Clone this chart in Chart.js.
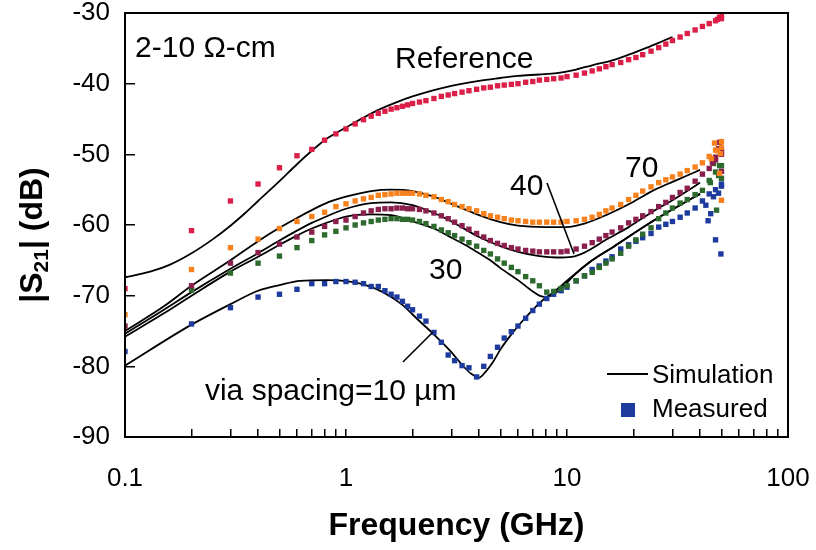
<!DOCTYPE html>
<html>
<head>
<meta charset="utf-8">
<script src="https://cdn.jsdelivr.net/npm/chart.js@4.4.1/dist/chart.umd.min.js"></script>
<style>
  html, body { margin: 0; padding: 0; background: #fff; }
  #wrap { width: 816px; height: 550px; position: relative; }
</style>
</head>
<body>
<div id="wrap"><canvas id="s21Chart"></canvas></div>
<script>
const FONT = "'Liberation Sans', Arial, sans-serif";

// measured sweep frequencies (GHz)
const measFreq = [0.1, 0.2, 0.3, 0.4, 0.5, 0.6, 0.7, 0.8, 0.9, 1.0,
  1.1, 1.2, 1.3, 1.4, 1.5, 1.6, 1.7, 1.8, 1.9, 2.0,
  2.15, 2.3, 2.5, 2.7, 2.9,
  3.1, 3.35, 3.6, 3.9, 4.2, 4.5, 4.85,
  5.2, 5.6, 6.0, 6.5, 7.0, 7.5, 8.1, 8.7, 9.4, 10,
  11, 12, 13, 14, 15, 16,
  17.5, 19, 20.5, 22, 24, 26, 28, 30,
  32.5, 35, 38, 41, 44, 47, 50];

// measured |S21| in dB
const refMeas = [-69.0, -60.8, -56.6, -54.2, -51.9, -50.2, -49.3, -48.0, -47.1, -46.4,
  -45.7, -45.1, -44.6, -44.2, -43.9, -43.6, -43.4, -43.2, -43.0, -42.8,
  -42.6, -42.4, -42.1, -41.8, -41.6,
  -41.4, -41.2, -41.0, -40.8, -40.6, -40.5, -40.3,
  -40.2, -40.1, -40.0, -39.8, -39.7, -39.5, -39.4, -39.3, -39.2, -39.0,
  -38.8, -38.5, -38.2, -37.9, -37.6, -37.3,
  -37.0, -36.6, -36.3, -35.9, -35.4, -34.9, -34.4, -33.9,
  -33.4, -32.9, -32.4, -31.9, -31.5, -31.1, -30.8];
const sp70Meas = [-72.7, -66.3, -63.2, -62.0, -60.5, -59.5, -58.8, -58.2, -57.4, -57.0,
  -56.6, -56.3, -56.1, -55.8, -55.7, -55.6, -55.5, -55.5, -55.5, -55.5,
  -55.6, -55.8, -56.0, -56.4, -56.7,
  -57.1, -57.4, -57.7, -58.0, -58.4, -58.7, -58.9,
  -59.1, -59.3, -59.4, -59.5, -59.6, -59.6, -59.6, -59.6, -59.6, -59.5,
  -59.4, -59.2, -58.9, -58.5, -58.0, -57.6,
  -57.1, -56.4, -55.8, -55.2, -54.6, -54.0, -53.6, -53.2,
  -52.8, -52.3, -51.8, -51.2, -50.3, -49.4, -49.0];
const sp40Meas = [-74.3, -68.6, -65.4, -63.9, -62.7, -61.7, -61.0, -60.2, -59.5, -59.3,
  -58.8, -58.3, -58.0, -57.8, -57.7, -57.7, -57.6, -57.6, -57.7, -57.7,
  -57.8, -58.0, -58.3, -58.7, -59.1,
  -59.6, -60.1, -60.6, -61.2, -61.7, -62.2, -62.6,
  -62.9, -63.2, -63.4, -63.6, -63.7, -63.8, -63.8, -63.8, -63.8, -63.7,
  -63.4, -63.0, -62.5, -62.0, -61.5, -61.0,
  -60.4, -59.7, -59.2, -58.7, -58.1, -57.4, -56.8, -56.1,
  -55.4, -54.8, -53.8, -52.8, -52.0, -50.8, -50.0];
const sp30Meas = [null, -69.2, -66.8, -65.4, -64.4, -63.2, -62.2, -61.4, -60.9, -60.4,
  -60.0, -59.7, -59.5, -59.3, -59.2, -59.1, -59.1, -59.2, -59.2, -59.3,
  -59.5, -59.8, -60.2, -60.7, -61.1,
  -61.5, -62.0, -62.5, -63.0, -63.6, -64.1, -64.8,
  -65.4, -66.0, -66.6, -67.3, -67.9, -68.6, -69.5, -69.4, -69.0, -68.6,
  -67.9, -67.2, -66.7, -66.0, -65.4, -64.8,
  -64.0, -63.0, -62.1, -61.3, -60.4, -59.1, -58.3, -57.6,
  -56.9, -56.4, -55.7, -55.1, -53.7, -52.5, -51.6];
const sp10Meas = [-77.9, -74.0, -71.7, -70.2, -69.8, -69.1, -68.3, -68.3, -68.0, -68.0,
  -68.1, -68.3, -68.7, -68.7, -69.3, -69.8, -70.2, -70.8, -71.5, -72.0,
  -72.9, -73.6, -75.2, -76.6, -78.4,
  -79.2, -79.9, -80.2, -81.5, -80.0, -78.6, -77.3,
  -76.0, -75.1, -74.3, -73.2, -72.1, -71.2, -70.4, -69.8, -69.3, -68.8,
  -67.9, -67.2, -66.3, -65.8, -65.1, -64.5,
  -63.4, -62.8, -62.3, -61.8, -61.2, -60.3, -59.9, -59.5,
  -58.9, -58.3, -57.6, -56.6, -55.6, -55.0, -54.5];

// scattered readings near the top of the band
const refTailFreq = [48, 49, 50];
const refTail = [-30.9, -30.6, -30.3];
const sp70TailFreq = [45, 46.5, 48, 49, 49.5, 50, 50];
const sp70Tail = [-50.6, -48.4, -49.5, -52.7, -49.9, -56.5, -48.2];
const sp40TailFreq = [45.5, 47, 48.5, 49, 50, 50];
const sp40Tail = [-51.2, -50.4, -49.2, -48.3, -52.4, -49.5];
const sp30TailFreq = [44.5, 46, 47.5, 48.5, 49, 50];
const sp30Tail = [-54.0, -51.3, -57.9, -53.0, -51.6, -53.4];
const sp10TailFreq = [42.5, 43.5, 44.7, 46, 47, 48.5, 49.7, 50];
const sp10Tail = [-57.2, -59.4, -58.4, -56.0, -62.1, -55.5, -64.1, -54.2];

// simulated curves
const refSimFreq = [0.1, 0.13, 0.16, 0.2, 0.25, 0.3, 0.35, 0.4, 0.5, 0.6, 0.7, 0.8, 0.9, 1.0,
  1.2, 1.4, 1.7, 2.0, 2.5, 3.0, 4.0, 5.0, 6.0, 7.5, 9.0, 11, 13, 16, 19, 23, 27, 30];
const refSim = [-67.4, -66.6, -65.6, -64.0, -62.0, -60.1, -58.3, -56.6, -53.8, -51.4, -49.5, -48.0, -47.0, -46.2,
  -44.8, -43.7, -42.6, -41.8, -40.9, -40.3, -39.6, -39.2, -38.9, -38.7, -38.5, -38.0, -37.4, -36.7, -35.9, -34.9, -34.0, -33.4];
const sp70SimFreq = [0.1, 0.15, 0.2, 0.3, 0.4, 0.5, 0.6, 0.7, 0.8, 1.0, 1.3, 1.6, 2.0, 2.5, 3.0,
  4.0, 5.0, 6.0, 8.0, 10, 12, 15, 20, 25, 30, 35, 40];
const sp70Sim = [-75.0, -71.5, -68.6, -65.0, -62.3, -60.4, -59.0, -57.9, -57.0, -56.0, -55.2, -55.0, -55.2, -56.0, -57.0,
  -58.6, -59.6, -60.1, -60.3, -60.3, -59.8, -58.6, -56.7, -55.0, -53.9, -53.0, -52.2];
const sp40SimFreq = [0.1, 0.15, 0.2, 0.3, 0.4, 0.5, 0.6, 0.7, 0.8, 1.0, 1.3, 1.6, 2.0, 2.5, 3.0,
  4.0, 5.0, 6.0, 7.5, 9.0, 10.5, 12, 15, 19, 25, 30, 35, 40];
const sp40Sim = [-75.4, -72.0, -69.5, -66.2, -64.0, -62.2, -60.8, -59.7, -58.9, -57.7, -56.9, -56.8, -57.2, -58.3, -59.5,
  -61.7, -63.0, -63.8, -64.4, -64.6, -64.5, -63.9, -62.1, -60.3, -57.9, -56.5, -55.2, -54.0];
const sp30SimFreq = [0.1, 0.15, 0.2, 0.3, 0.4, 0.5, 0.6, 0.7, 0.8, 1.0, 1.3, 1.6, 2.0, 2.5, 3.0, 3.5,
  4.0, 4.5, 5.0, 6.0, 7.0, 7.5, 8.0, 8.7, 9.5, 10.7, 13, 16.2, 20, 24.6, 30, 35, 40];
const sp30Sim = [-75.8, -72.5, -70.0, -66.6, -64.5, -62.8, -61.5, -60.5, -59.8, -58.8, -58.5, -58.6, -59.5, -60.5, -61.8, -62.9,
  -64.0, -65.0, -66.1, -67.8, -69.4, -70.0, -70.2, -69.8, -68.9, -67.2, -65.0, -63.1, -61.2, -59.4, -57.8, -56.6, -55.6];
const sp10SimFreq = [0.1, 0.2, 0.3, 0.4, 0.5, 0.62, 0.82, 1.04, 1.2, 1.47, 1.8, 2.1, 2.5, 2.96, 3.4, 3.7,
  4.0, 4.3, 4.6, 5.0, 5.5, 6.2, 7.0, 8.0, 8.7, 9.5, 10.7, 13, 16.2, 20, 24.6, 30, 35, 40];
const sp10Sim = [-79.9, -74.1, -71.2, -69.3, -68.5, -67.9, -67.8, -68.0, -68.4, -69.5, -71.3, -73.3, -75.5, -77.8, -80.0, -81.1,
  -81.6, -80.7, -79.5, -77.6, -75.8, -73.8, -72.0, -70.3, -69.5, -68.5, -67.1, -65.0, -63.1, -61.2, -59.4, -57.8, -56.6, -55.6];

// axis ticks
const xTickValues = [0.1, 0.2, 0.3, 0.4, 0.5, 0.6, 0.7, 0.8, 0.9,
  1, 2, 3, 4, 5, 6, 7, 8, 9, 10, 20, 30, 40, 50, 60, 70, 80, 90, 100];
const xLabelValues = [0.1, 1, 10, 100];
const xLabelText = ['0.1', '1', '10', '100'];

// curve labels placed in data coordinates
const noteText = ['2-10 \u03A9-cm', 'Reference', '40', '70', '30', 'via spacing=10 \u00B5m'];
const noteFreq = [0.111, 1.666, 5.52, 18.3, 2.375, 0.230];
const noteDb = [-36.2, -37.8, -55.75, -53.2, -67.6, -84.8];
const leaderFreq = [[8.12, 10.76], [1.81, 2.476]];
const leaderDb = [[-54.06, -64.1], [-79.39, -75.14]];

const pts = (xs, ys) => xs.map((x, i) => ({ x, y: ys[i] }));

function measured(label, color, xs, ys, tx, ty) {
  return {
    label, data: pts(xs, ys).concat(pts(tx, ty)),
    showLine: false, pointStyle: 'rect', pointRadius: 3.8, pointHoverRadius: 3.8,
    backgroundColor: color, borderColor: color, pointBorderWidth: 0, order: 0
  };
}
function simulated(label, xs, ys) {
  return {
    label, data: pts(xs, ys), showLine: true, pointRadius: 0,
    borderColor: '#000', borderWidth: 1.8, cubicInterpolationMode: 'monotone', order: 1
  };
}

const decor = {
  id: 'decor',
  afterDatasetsDraw(chart) {
    const { ctx, chartArea: a, scales } = chart;
    const px = f => scales.x.getPixelForValue(f);
    const py = d => scales.y.getPixelForValue(d);
    ctx.save();
    ctx.strokeStyle = '#000';
    ctx.lineWidth = 2;
    ctx.strokeRect(a.left, a.top, a.right - a.left, a.bottom - a.top);

    ctx.fillStyle = '#000';
    ctx.font = '30px ' + FONT;
    ctx.textAlign = 'left';
    ctx.textBaseline = 'alphabetic';
    noteText.forEach((t, i) => ctx.fillText(t, px(noteFreq[i]), py(noteDb[i])));

    ctx.lineWidth = 1.6;
    leaderFreq.forEach((f, i) => {
      ctx.beginPath();
      ctx.moveTo(px(f[0]), py(leaderDb[i][0]));
      ctx.lineTo(px(f[1]), py(leaderDb[i][1]));
      ctx.stroke();
    });

    // legend, bottom right inside the frame
    ctx.lineWidth = 1.8;
    ctx.beginPath();
    ctx.moveTo(a.right - 181, a.bottom - 63);
    ctx.lineTo(a.right - 140, a.bottom - 63);
    ctx.stroke();
    ctx.font = '26px ' + FONT;
    ctx.fillText('Simulation', a.right - 136, a.bottom - 54);
    ctx.fillText('Measured', a.right - 136, a.bottom - 20);
    ctx.fillStyle = '#1d3a9e';
    ctx.fillRect(a.right - 167, a.bottom - 34, 14, 14);

    // y axis title with subscript
    ctx.fillStyle = '#000';
    ctx.translate(a.left - 94, (a.top + a.bottom) / 2 + 10);
    ctx.rotate(-Math.PI / 2);
    const big = 'bold 32px ' + FONT, small = 'bold 21px ' + FONT;
    ctx.font = big; const w1 = ctx.measureText('|S').width, w3 = ctx.measureText('| (dB)').width;
    ctx.font = small; const w2 = ctx.measureText('21').width;
    let x0 = -(w1 + w2 + w3) / 2;
    ctx.font = big; ctx.fillText('|S', x0, 11);
    ctx.font = small; ctx.fillText('21', x0 + w1, 17);
    ctx.font = big; ctx.fillText('| (dB)', x0 + w1 + w2, 11);
    ctx.restore();
  }
};

new Chart(document.getElementById('s21Chart'), {
  type: 'scatter',
  data: {
    datasets: [
      measured('Reference', '#dc1f48', measFreq, refMeas, refTailFreq, refTail),
      measured('70 \u00B5m', '#f7811d', measFreq, sp70Meas, sp70TailFreq, sp70Tail),
      measured('40 \u00B5m', '#8a1f4e', measFreq, sp40Meas, sp40TailFreq, sp40Tail),
      measured('30 \u00B5m', '#2c6a2e', measFreq, sp30Meas, sp30TailFreq, sp30Tail),
      measured('10 \u00B5m', '#1d3a9e', measFreq, sp10Meas, sp10TailFreq, sp10Tail),
      simulated('Reference sim', refSimFreq, refSim),
      simulated('70 \u00B5m sim', sp70SimFreq, sp70Sim),
      simulated('40 \u00B5m sim', sp40SimFreq, sp40Sim),
      simulated('30 \u00B5m sim', sp30SimFreq, sp30Sim),
      simulated('10 \u00B5m sim', sp10SimFreq, sp10Sim)
    ]
  },
  options: {
    responsive: true,
    maintainAspectRatio: false,
    animation: false,
    devicePixelRatio: 1,
    layout: { padding: { left: 0, right: 28, top: 13, bottom: 0 } },
    plugins: { legend: { display: false }, tooltip: { enabled: false } },
    scales: {
      x: {
        type: 'logarithmic', position: 'bottom', min: 0.1, max: 100,
        afterBuildTicks: s => { s.ticks = xTickValues.map(v => ({ value: v })); },
        afterFit: s => { s.height = 113; s.paddingLeft = 0; s.paddingRight = 0; },
        border: { display: false },
        grid: { drawOnChartArea: false, drawTicks: true, tickLength: -8, color: '#000', lineWidth: 1.5 },
        ticks: {
          autoSkip: false, maxRotation: 0, padding: 34, color: '#000',
          font: { family: FONT, size: 26 },
          callback: v => {
            const i = xLabelValues.findIndex(t => Math.abs(t - v) / t < 1e-6);
            return i < 0 ? '' : xLabelText[i];
          }
        },
        title: {
          display: true, text: 'Frequency (GHz)', color: '#000',
          font: { family: FONT, size: 32, weight: 'bold' }, padding: { top: 0, bottom: 5 }
        }
      },
      y: {
        type: 'linear', min: -90, max: -30,
        afterFit: s => { s.width = 125; s.paddingTop = 0; s.paddingBottom = 0; },
        border: { display: false },
        grid: { drawOnChartArea: false, drawTicks: true, tickLength: -10, color: '#000', lineWidth: 1.5 },
        ticks: { stepSize: 10, padding: 25, color: '#000', font: { family: FONT, size: 26 } }
      }
    }
  },
  plugins: [decor]
});
</script>
</body>
</html>
